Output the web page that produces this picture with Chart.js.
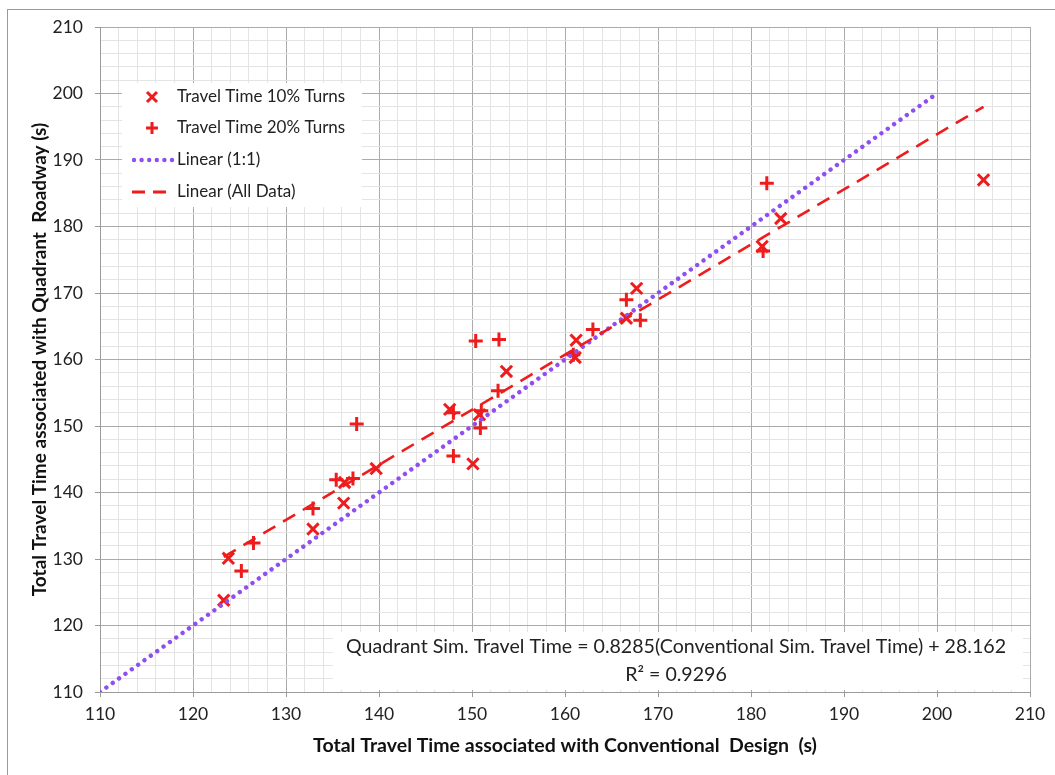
<!DOCTYPE html>
<html><head><meta charset="utf-8">
<script src="https://cdn.jsdelivr.net/npm/chart.js@4/dist/chart.umd.min.js"></script>
<style>
html,body{margin:0;padding:0;background:#fff;overflow:hidden}
#wrap{position:relative;width:1055px;height:775px}
#frame{position:absolute;left:7px;top:9px;width:1070px;height:790px;border:1px solid #9a9a9a;box-sizing:border-box;pointer-events:none}
</style></head>
<body><div id="wrap"><canvas id="c" width="1055" height="775"></canvas><div id="frame"></div></div>
<script>
// ---- data ----
const conv10 = [123.3,123.8,132.9,136.2,136.3,139.7,147.6,150.1,150.8,153.7,161.1,161.2,166.6,167.7,181.2,183.2,205.0];
const quad10 = [123.8,130.1,134.5,138.4,141.5,143.6,152.5,144.3,151.7,158.2,160.3,162.9,166.2,170.7,177.0,181.2,187.0];
const conv20 = [125.2,126.5,132.9,135.4,137.2,137.6,148.0,148.0,150.4,152.9,151.0,150.9,152.8,160.9,163.0,166.6,168.1,181.7,181.3];
const quad20 = [128.2,132.4,137.6,141.9,142.1,150.3,152.0,145.5,162.8,163.0,152.3,149.7,155.3,160.7,164.5,169.0,165.9,186.5,176.3];
const oneToOneX = [110, 199.5];
const fitSlope = 0.8285, fitIntercept = 28.162, fitR2 = 0.9296;
const fitX = [123.3, 205.0];
const legendLabels = ['Travel Time 10% Turns','Travel Time 20% Turns','Linear (1:1)','Linear (All Data)'];
const eqLine1 = 'Quadrant Sim. Travel Time = 0.8285(Conventional Sim. Travel Time) + 28.162';
const eqLine2 = 'R\u00B2 = 0.9296';
const xTitle = 'Total Travel Time associated with Conventional  Design  (s)';
const yTitle = 'Total Travel Time associated with Quadrant  Roadway (s)';
const axisMin = 110, axisMax = 210, minorStep = 2, majorStep = 10;

const RED = '#ee1c1c', PURPLE = '#8f4ff0';
const FONT = 'Lato, "Open Sans", sans-serif';

const pts = (xs, ys) => xs.map((x, i) => ({x, y: ys[i]}));

const overlay = {
  id: 'overlay',
  afterDatasetsDraw(chart) {
    const ctx = chart.ctx;
    ctx.save();
    // legend
    ctx.fillStyle = '#fff';
    ctx.fillRect(122, 83, 240, 124);
    const rows = [97, 128, 160, 192];
    ctx.font = '17px ' + FONT;
    ctx.textBaseline = 'middle';
    ctx.textAlign = 'left';
    ctx.fillStyle = '#222';
    legendLabels.forEach((t, i) => ctx.fillText(t, 177, rows[i]));
    ctx.strokeStyle = RED; ctx.lineWidth = 3;
    // x marker
    let cx = 152, cy = rows[0], r = 5;
    ctx.beginPath(); ctx.moveTo(cx - r, cy - r); ctx.lineTo(cx + r, cy + r);
    ctx.moveTo(cx + r, cy - r); ctx.lineTo(cx - r, cy + r); ctx.stroke();
    // + marker
    cy = rows[1]; r = 6;
    ctx.beginPath(); ctx.moveTo(cx - r, cy); ctx.lineTo(cx + r, cy);
    ctx.moveTo(cx, cy - r); ctx.lineTo(cx, cy + r); ctx.stroke();
    // dotted
    ctx.fillStyle = PURPLE;
    for (let k = 0; k < 6; k++) { ctx.beginPath(); ctx.arc(134 + k * 7.6, rows[2], 2.2, 0, Math.PI * 2); ctx.fill(); }
    // dashed
    ctx.strokeStyle = RED; ctx.lineWidth = 3;
    ctx.beginPath(); ctx.moveTo(132, rows[3]); ctx.lineTo(145, rows[3]);
    ctx.moveTo(153, rows[3]); ctx.lineTo(166, rows[3]); ctx.stroke();
    // equation box
    ctx.fillStyle = '#fff';
    ctx.fillRect(333, 632, 690, 58);
    ctx.fillStyle = '#222';
    ctx.textAlign = 'center';
    ctx.font = '19.6px ' + FONT;
    ctx.fillText(eqLine1, 676, 647);
    ctx.fillText(eqLine2, 676, 675);
    ctx.restore();
  }
};

const gridColor = (c) => (c.tick && Math.round(c.tick.value) % majorStep === 0) ? '#ababab' : '#e4e4e4';
const tickCol = (c) => (c.tick && Math.round(c.tick.value) % majorStep === 0) ? '#9a9a9a' : 'rgba(0,0,0,0)';
const tickCb = (v) => (Math.round(v) % majorStep === 0 ? String(Math.round(v)) : '');

new Chart(document.getElementById('c'), {
  type: 'scatter',
  data: {
    datasets: [
      { label: legendLabels[0], data: pts(conv10, quad10), pointStyle: 'crossRot', pointRadius: 8, pointHoverRadius: 8,
        borderColor: RED, backgroundColor: RED, pointBorderWidth: 3, order: 2 },
      { label: legendLabels[1], data: pts(conv20, quad20), pointStyle: 'cross', pointRadius: 7, pointHoverRadius: 7,
        borderColor: RED, backgroundColor: RED, pointBorderWidth: 3, order: 2 },
      { type: 'line', label: legendLabels[2], data: pts(oneToOneX, oneToOneX), borderColor: PURPLE, borderWidth: 4.4,
        borderDash: [0.01, 7.8], borderCapStyle: 'round', pointRadius: 0, fill: false, order: 1 },
      { type: 'line', label: legendLabels[3], data: pts(fitX, fitX.map(x => fitSlope * x + fitIntercept)), borderColor: RED,
        borderWidth: 2.6, borderDash: [14, 9], pointRadius: 0, fill: false, order: 0 }
    ]
  },
  options: {
    responsive: false, animation: false,
    layout: { padding: { left: 0, top: 27, right: 25, bottom: 0 } },
    plugins: { legend: { display: false }, tooltip: { enabled: false } },
    scales: {
      x: {
        type: 'linear', min: axisMin, max: axisMax,
        afterFit: (s) => { s.height = 83; },
        ticks: { stepSize: minorStep, autoSkip: false, maxRotation: 0, callback: tickCb, color: '#222',
          font: { family: FONT, size: 17.5 }, padding: 7 },
        grid: { color: gridColor, tickColor: tickCol, tickLength: 5, lineWidth: 1 },
        border: { display: true, color: '#9a9a9a' },
        title: { display: true, text: xTitle, color: '#111', font: { family: FONT, size: 19.5, weight: 'bold' },
          padding: { top: 0, bottom: 18 } }
      },
      y: {
        type: 'linear', min: axisMin, max: axisMax,
        afterFit: (s) => { s.width = 100; },
        ticks: { stepSize: minorStep, autoSkip: false, callback: tickCb, color: '#222',
          font: { family: FONT, size: 17.5 }, padding: 12 },
        grid: { color: gridColor, tickColor: tickCol, tickLength: 5, lineWidth: 1 },
        border: { display: true, color: '#9a9a9a' },
        title: { display: true, text: yTitle, color: '#111', font: { family: FONT, size: 19, weight: 'bold' },
          padding: { top: 28, bottom: 0 } }
      }
    }
  },
  plugins: [overlay]
});
</script>
</body></html>
